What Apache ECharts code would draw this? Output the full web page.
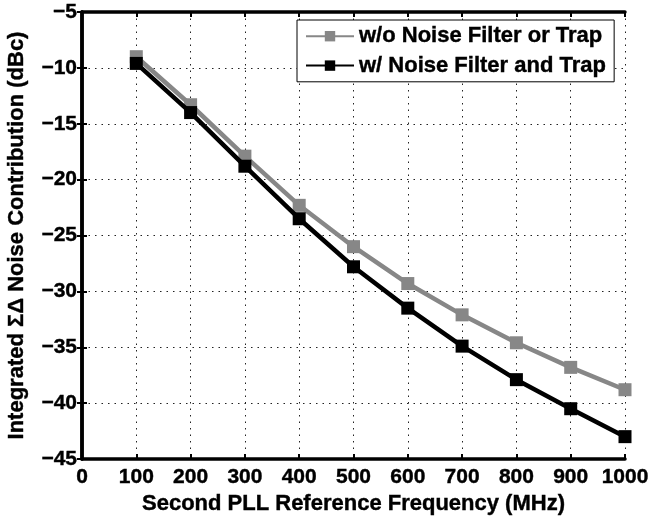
<!DOCTYPE html>
<html>
<head>
<meta charset="utf-8">
<script src="https://cdn.jsdelivr.net/npm/echarts@6/dist/echarts.min.js"></script>
<style>
html,body{margin:0;padding:0;background:#fff;}
#chart{width:650px;height:517px;}
</style>
</head>
<body>
<div id="chart"></div>
<script>
var frequencies = [100, 200, 300, 400, 500, 600, 700, 800, 900, 1000];
var withoutFilter = [-9.0, -13.3, -17.9, -22.3, -26.0, -29.3, -32.1, -34.6, -36.8, -38.8];
var withFilter = [-9.6, -14.0, -18.8, -23.5, -27.8, -31.5, -34.9, -37.9, -40.5, -43.0];
var seriesNames = ['w/o Noise Filter or Trap', 'w/ Noise Filter and Trap'];
var xAxisTitle = 'Second PLL Reference Frequency (MHz)';
var yAxisTitle = 'Integrated \u03A3\u0394 Noise Contribution (dBc)';

function pairs(ys) { return frequencies.map(function (f, i) { return [f, ys[i]]; }); }

var FONT = '"Liberation Sans", Arial, Helvetica, sans-serif';
var chart = echarts.init(document.getElementById('chart'), null, { renderer: 'canvas' });
var gridDash = { color: '#222', width: 1, type: [1.5, 5] };
var axisLineStyle = { show: true, lineStyle: { color: '#000', width: 3.5 } };
var tickStyle = { show: true, inside: true, length: 5, lineStyle: { color: '#000', width: 2 } };
var boldText = { fontFamily: FONT, fontWeight: 'bold', color: '#000', textBorderColor: '#000', textBorderWidth: 0.4 };

chart.setOption({
  backgroundColor: '#fff',
  animation: false,
  grid: { left: 82, right: 25, top: 12, bottom: 58, containLabel: false, outerBoundsMode: 'none' },
  legend: {
    orient: 'vertical',
    left: 297, top: 20,
    padding: [5, 8, 5, 8],
    itemGap: 7,
    itemWidth: 48, itemHeight: 13,
    borderColor: '#000', borderWidth: 1, backgroundColor: '#fff',
    textStyle: Object.assign({ fontSize: 22 }, boldText),
    data: seriesNames
  },
  xAxis: [{
    type: 'value', min: 0, max: 1000, interval: 100,
    name: xAxisTitle, nameLocation: 'middle', nameGap: 28,
    nameTextStyle: Object.assign({ fontSize: 22 }, boldText),
    axisLine: axisLineStyle, axisTick: tickStyle,
    axisLabel: Object.assign({ fontSize: 21, margin: 8,
      formatter: function (v) { return String(v); } }, boldText),
    splitLine: { show: true, lineStyle: gridDash }
  }, {
    type: 'value', min: 0, max: 1000, interval: 100, position: 'top',
    axisLine: axisLineStyle, axisTick: tickStyle, axisLabel: { show: false }, splitLine: { show: false }
  }],
  yAxis: [{
    type: 'value', min: -45, max: -5, interval: 5,
    name: yAxisTitle, nameLocation: 'middle', nameGap: 54, nameRotate: 90,
    nameTextStyle: Object.assign({ fontSize: 22 }, boldText),
    axisLine: axisLineStyle, axisTick: tickStyle,
    axisLabel: Object.assign({ fontSize: 21, margin: 5,
      formatter: function (v) { return String(v).replace('-', '\u2212'); } }, boldText),
    splitLine: { show: true, lineStyle: gridDash }
  }, {
    type: 'value', min: -45, max: -5, interval: 5, position: 'right',
    axisLine: axisLineStyle, axisTick: tickStyle, axisLabel: { show: false }, splitLine: { show: false }
  }],
  series: [{
    name: seriesNames[0], type: 'line', data: pairs(withoutFilter),
    symbol: 'rect', symbolSize: 13, showAllSymbol: true,
    lineStyle: { color: '#878787', width: 4.5 }, itemStyle: { color: '#878787' }, z: 3
  }, {
    name: seriesNames[1], type: 'line', data: pairs(withFilter),
    symbol: 'rect', symbolSize: 13, showAllSymbol: true,
    lineStyle: { color: '#000', width: 4.5 }, itemStyle: { color: '#000' }, z: 4
  }]
});
</script>
</body>
</html>
